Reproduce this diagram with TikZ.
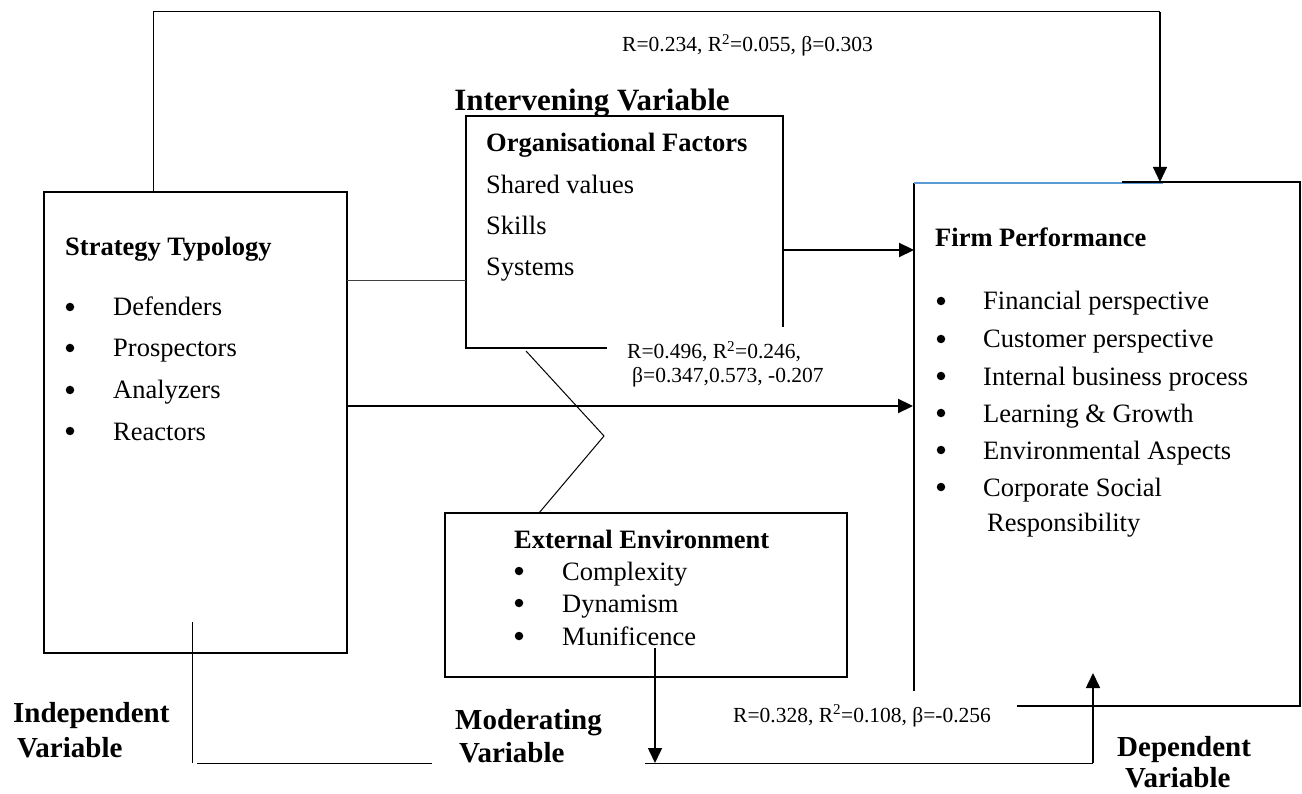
\documentclass[tikz,border=0pt]{standalone}
\usepackage{fontspec}
\setmainfont{Liberation Serif}
\usetikzlibrary{arrows.meta}
\definecolor{edgeblue}{RGB}{91,155,213}
\begin{document}
\begin{tikzpicture}[x=1pt,y=-1pt,
  txt/.style={font=\fontsize{26.5}{30}\selectfont, anchor=base west, inner sep=0pt},
  bul/.style={circle, fill=black, draw=none, inner sep=0pt, minimum size=8.5pt},
  ttl/.style={font=\fontsize{26.5}{30}\selectfont\bfseries, anchor=base west, inner sep=0pt},
  lbl/.style={font=\fontsize{29}{32}\selectfont\bfseries, anchor=base west, inner sep=0pt},
  stat/.style={font=\fontsize{21.5}{24}\selectfont, anchor=base west, inner sep=0pt},
  boxline/.style={line width=1.6pt},
  thinline/.style={line width=1pt},
  thickarrow/.style={line width=2.2pt, -{Triangle[length=15pt,width=14pt]}},
  thinarrow/.style={line width=1.6pt, -{Triangle[length=15pt,width=14pt]}}
]
\useasboundingbox (0,0) rectangle (1302,794);

% ---------- boxes ----------
\coordinate (stNW) at (44,192);
\coordinate (stSE) at (347,653);
\draw[boxline] (stNW) rectangle (stSE);

\coordinate (orgBL) at (607,348);
\coordinate (orgSW) at (466,348);
\coordinate (orgNW) at (466,116);
\coordinate (orgNE) at (783,116);
\coordinate (orgRE) at (783,327);
\draw[boxline] (orgBL) -- (orgSW) -- (orgNW) -- (orgNE) -- (orgRE);

\coordinate (exNW) at (445,513);
\coordinate (exSE) at (847,677);
\draw[boxline] (exNW) rectangle (exSE);

\coordinate (fpNW) at (914,183);
\coordinate (fpSW) at (914,691);
\coordinate (fpBlueE) at (1163,183);
\coordinate (fpTopW) at (1122,182);
\coordinate (fpNE) at (1300,182);
\coordinate (fpSE) at (1300,706);
\coordinate (fpBotW) at (1017,706);
\draw[boxline] (fpSW) -- (fpNW);
\draw[line width=1.4pt, edgeblue] (fpNW) -- (fpBlueE);
\draw[boxline] (fpTopW) -- (fpNE) -- (fpSE) -- (fpBotW);

% ---------- texts ----------
\node[ttl] (stTitle) at (65,256) {Strategy Typology};
\foreach \y/\t [count=\i] in {316/Defenders,357/Prospectors,399/Analyzers,440/Reactors}{
  \node[bul] (stB\i) at (70,{\y-9}) {};
  \node[txt] (stT\i) at (113,\y) {\t};
}

\node[ttl] (orgTitle) at (486,152) {Organisational Factors};
\node[txt] (org1) at (486,194) {Shared values};
\node[txt] (org2) at (486,235) {Skills};
\node[txt] (org3) at (486,276) {Systems};

\node[ttl] (fpTitle) at (935,247) {Firm Performance};
\foreach \y/\t [count=\i] in {310/Financial perspective,348/Customer perspective,385/Internal business process,422/Learning \& Growth,459/Environmental Aspects,496/Corporate Social}{
  \node[bul] (fpB\i) at (941,{\y-9}) {};
  \node[txt] (fpT\i) at (983,\y) {\t};
}
\node[txt] (fpT7) at (987,531) {Responsibility};

\node[ttl] (exTitle) at (514,548) {External Environment};
\foreach \y/\t [count=\i] in {580/Complexity,612/Dynamism,645/Munificence}{
  \node[bul] (exB\i) at (519,{\y-9}) {};
  \node[txt] (exT\i) at (562,\y) {\t};
}

% ---------- variable labels ----------
\node[lbl, font=\fontsize{31}{34}\selectfont\bfseries, anchor=base] (intLbl) at (592,111) {Intervening Variable};
\node[lbl] (indLbl1) at (13,722) {Independent};
\node[lbl] (indLbl2) at (17,757) {Variable};
\node[lbl] (modLbl1) at (455,729) {Moderating};
\node[lbl] (modLbl2) at (459,762) {Variable};
\node[lbl] (depLbl1) at (1117,756) {Dependent};
\node[lbl] (depLbl2) at (1125,787) {Variable};

% ---------- statistics ----------
\node[stat] (s1) at (622,52) {R=0.234, R\textsuperscript{2}=0.055, β=0.303};
\node[stat] (s2a) at (627,359) {R=0.496, R\textsuperscript{2}=0.246,};
\node[stat] (s2b) at (632,383) {β=0.347,0.573, -0.207};
\node[stat] (s3) at (733,722) {R=0.328, R\textsuperscript{2}=0.108, β=-0.256};

% ---------- connectors ----------
\coordinate (topL) at (153,192);
\coordinate (topLU) at (153,12);
\coordinate (topRU) at (1160,12);
\coordinate (topTip) at (1160,182);
\draw[thinline] (topL) -- (topLU) -- (topRU);
\draw[thinarrow, line width=1.2pt] (topRU) -- (topTip);

\coordinate (stOrgA) at (347,281);
\coordinate (stOrgB) at (466,281);
\draw[thinline, black!75] (stOrgA) -- (stOrgB);

\coordinate (orgOut) at (783,250);
\coordinate (fpIn1) at (914,250);
\draw[thickarrow] (orgOut) -- (fpIn1);

\coordinate (stOut) at (347,406);
\coordinate (fpIn2) at (913,406);
\draw[thickarrow] (stOut) -- (fpIn2);

\coordinate (zz1) at (526,351);
\coordinate (zz2) at (604,436);
\coordinate (zz3) at (539,513);
\draw[thinline] (zz1) -- (zz2) -- (zz3);

\coordinate (exOut) at (655,648);
\coordinate (exTip) at (655,763);
\draw[thinarrow] (exOut) -- (exTip);

\coordinate (indV1) at (192,622);
\coordinate (indV2) at (192,763);
\draw[thinline] (indV1) -- (indV2);
\coordinate (botA) at (197,763);
\coordinate (botB) at (432,763);
\draw[thinline] (botA) -- (botB);

\coordinate (botC) at (645,763);
\coordinate (botD) at (1093,763);
\coordinate (depTip) at (1093,673);
\draw[thinline] (botC) -- (botD);
\draw[thinarrow] (botD) -- (depTip);
\end{tikzpicture}
\end{document}
